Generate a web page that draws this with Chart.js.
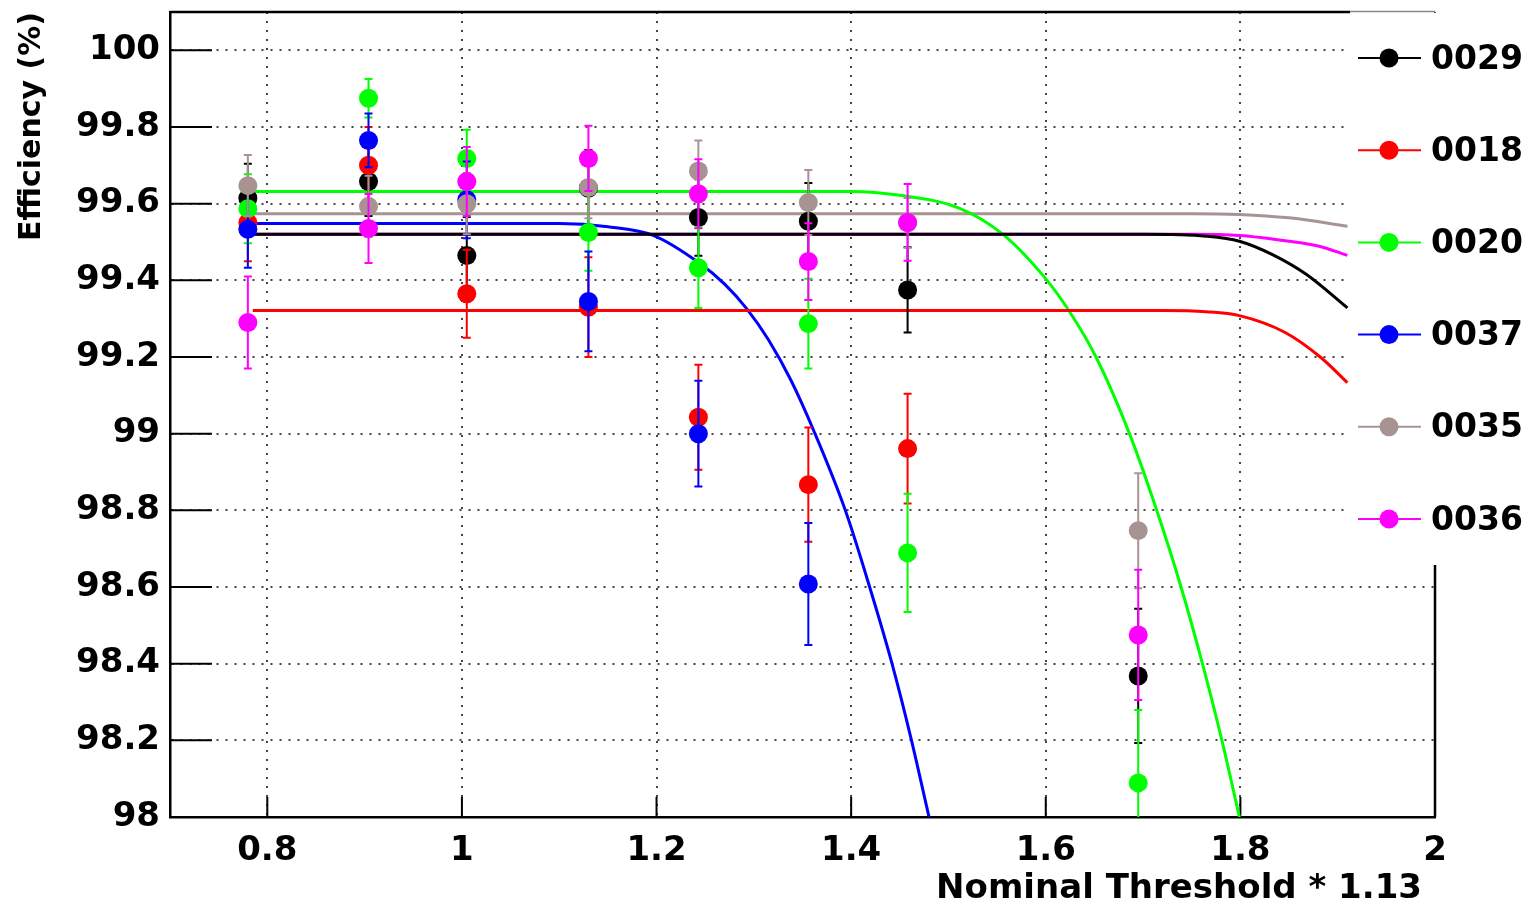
<!DOCTYPE html>
<html>
<head>
<meta charset="utf-8">
<title>Efficiency vs threshold</title>
<script src="https://cdn.jsdelivr.net/npm/chart.js@4.4.1/dist/chart.umd.min.js"></script>
<style>
  html, body { margin: 0; padding: 0; background: #fff; }
  #wrap { width: 1528px; height: 908px; }
</style>
</head>
<body>
<div id="wrap"><canvas id="chart"></canvas></div>
<script>
// x positions of the measurements (nominal threshold * 1.13)
const thresholds = [0.78, 0.904, 1.005, 1.13, 1.243, 1.356, 1.458, 1.695];

// measured efficiency (%) per chip, null = below the plotted range
const eff0029 = [99.614, 99.658, 99.465, 99.64, 99.564, 99.554, 99.375, 98.368];
const eff0018 = [99.55, 99.70, 99.365, 99.33, 99.043, 98.867, 98.961, null];
const eff0020 = [99.587, 99.875, 99.718, 99.525, 99.433, 99.287, 98.689, 98.089];
const eff0037 = [99.533, 99.765, 99.61, 99.345, 99.0, 98.608, null, null];
const eff0035 = [99.647, 99.593, 99.60, 99.642, 99.685, 99.603, 99.55, 98.747];
const eff0036 = [99.29, 99.535, 99.658, 99.718, 99.626, 99.449, 99.551, 98.475];

// error bars (half length)
const err0029 = [0.09, 0.09, 0.1, 0.1, 0.1, 0.1, 0.111, 0.175];
const err0018 = [0.1, 0.1, 0.115, 0.13, 0.137, 0.149, 0.143, 0];
const err0020 = [0.09, 0.05, 0.075, 0.1, 0.105, 0.117, 0.154, 0.19];
const err0037 = [0.1, 0.07, 0.1, 0.13, 0.138, 0.159, 0, 0];
const err0035 = [0.08, 0.08, 0.08, 0.08, 0.08, 0.085, 0.065, 0.15];
const err0036 = [0.12, 0.09, 0.09, 0.085, 0.09, 0.1, 0.1, 0.17];

// fit curves
const fit0029X = [0.785, 1.70, 1.765, 1.799, 1.833, 1.868, 1.910];
const fit0029Y = [99.52, 99.52, 99.515, 99.502, 99.467, 99.415, 99.328];
const fit0018X = [0.785, 1.72, 1.765, 1.799, 1.846, 1.883, 1.910];
const fit0018Y = [99.321, 99.321, 99.318, 99.308, 99.264, 99.198, 99.133];
const fit0020X = [0.785, 1.40, 1.45, 1.5115, 1.556, 1.599, 1.624, 1.652, 1.686, 1.714, 1.739, 1.761, 1.781, 1.799];
const fit0020Y = [99.632, 99.632, 99.622, 99.588, 99.52, 99.407, 99.32, 99.198, 99.0, 98.8, 98.6, 98.4, 98.2, 98.0];
const fit0037X = [0.785, 1.10, 1.15, 1.196, 1.244, 1.27, 1.293, 1.315, 1.338, 1.362, 1.394, 1.419, 1.442, 1.462, 1.480];
const fit0037Y = [99.548, 99.548, 99.54, 99.518, 99.445, 99.39, 99.325, 99.245, 99.14, 99.005, 98.8, 98.6, 98.4, 98.2, 98.0];
const fit0035X = [0.785, 1.75, 1.799, 1.850, 1.910];
const fit0035Y = [99.574, 99.574, 99.572, 99.563, 99.541];
const fit0036X = [0.785, 1.75, 1.799, 1.850, 1.881, 1.910];
const fit0036Y = [99.52, 99.52, 99.517, 99.502, 99.489, 99.465];

// axis ticks
const xTicks = [0.8, 1, 1.2, 1.4, 1.6, 1.8, 2];
const yTicks = [98, 98.2, 98.4, 98.6, 98.8, 99, 99.2, 99.4, 99.6, 99.8, 100];

const series = [
    { label: '0029', color: '#000000', eff: eff0029, err: err0029, fx: fit0029X, fy: fit0029Y },
    { label: '0018', color: '#ff0000', eff: eff0018, err: err0018, fx: fit0018X, fy: fit0018Y },
    { label: '0020', color: '#00ff00', eff: eff0020, err: err0020, fx: fit0020X, fy: fit0020Y },
    { label: '0037', color: '#0000ff', eff: eff0037, err: err0037, fx: fit0037X, fy: fit0037Y },
    { label: '0035', color: '#a89393', eff: eff0035, err: err0035, fx: fit0035X, fy: fit0035Y },
    { label: '0036', color: '#ff00ff', eff: eff0036, err: err0036, fx: fit0036X, fy: fit0036Y }
];

const FONT = '"DejaVu Sans", "Liberation Sans", sans-serif';

const datasets = [];
// fit curves underneath
series.forEach(s => {
    datasets.push({
        label: s.label + ' fit',
        data: s.fx.map((x, i) => ({ x: x, y: s.fy[i] })),
        showLine: true,
        borderColor: s.color,
        borderWidth: 3,
        pointRadius: 0,
        cubicInterpolationMode: 'monotone',
        order: 20
    });
});
// points with error bars, later chips on top
series.forEach((s, k) => {
    datasets.push({
        label: s.label,
        data: thresholds.map((x, i) => ({ x: x, y: s.eff[i], e: s.err[i] })).filter(p => p.y !== null),
        showLine: false,
        borderColor: s.color,
        backgroundColor: s.color,
        pointRadius: 9.5,
        pointBorderWidth: 0,
        errorBars: true,
        order: 10 - k
    });
});

// ROOT-like decorations: error bars, inner ticks, frame, legend, x title
const rootStyle = {
    id: 'rootStyle',
    beforeDatasetsDraw(chart) {
        const { ctx, chartArea: a, scales: { x, y } } = chart;
        ctx.save();
        ctx.strokeStyle = '#000';
        ctx.lineWidth = 2;
        ctx.beginPath();
        yTicks.forEach(v => {
            const py = y.getPixelForValue(v);
            ctx.moveTo(a.left, py);
            ctx.lineTo(a.left + 42, py);
        });
        xTicks.forEach(v => {
            const px = x.getPixelForValue(v);
            ctx.moveTo(px, a.bottom);
            ctx.lineTo(px, a.bottom - 20);
        });
        ctx.stroke();
        ctx.restore();
    },
    beforeDatasetDraw(chart, args) {
        const ds = chart.data.datasets[args.index];
        if (!ds.errorBars) return;
        const { ctx, chartArea: a, scales: { x, y } } = chart;
        ctx.save();
        ctx.beginPath();
        ctx.rect(a.left, a.top, a.right - a.left, a.bottom - a.top);
        ctx.clip();
        ctx.strokeStyle = ds.borderColor;
        ctx.lineWidth = 2;
        ds.data.forEach(p => {
            if (!p.e) return;
            const px = x.getPixelForValue(p.x);
            const top = y.getPixelForValue(p.y + p.e);
            const bot = y.getPixelForValue(p.y - p.e);
            ctx.beginPath();
            ctx.moveTo(px, top); ctx.lineTo(px, bot);
            ctx.moveTo(px - 4, top); ctx.lineTo(px + 4, top);
            ctx.moveTo(px - 4, bot); ctx.lineTo(px + 4, bot);
            ctx.stroke();
        });
        ctx.restore();
    },
    afterDraw(chart) {
        const { ctx, chartArea: a } = chart;
        const boxLeft = 1350, boxTop = 11, boxBottom = 565;
        ctx.save();
        // frame top and right
        ctx.strokeStyle = '#000';
        ctx.lineWidth = 2.5;
        ctx.beginPath();
        ctx.moveTo(a.left, a.top);
        ctx.lineTo(boxLeft, a.top);
        ctx.moveTo(a.right, boxBottom);
        ctx.lineTo(a.right, a.bottom);
        ctx.stroke();

        // legend box
        ctx.fillStyle = '#fff';
        ctx.fillRect(boxLeft, boxTop + 2, chart.width - boxLeft, boxBottom - boxTop - 2);
        ctx.strokeStyle = '#888';
        ctx.lineWidth = 1.5;
        ctx.beginPath();
        ctx.moveTo(boxLeft, boxTop + 0.5);
        ctx.lineTo(a.right, boxTop + 0.5);
        ctx.stroke();

        ctx.font = 'bold 33px ' + FONT;
        ctx.textBaseline = 'middle';
        ctx.textAlign = 'left';
        series.forEach((s, i) => {
            const cy = 58 + i * 92.2;
            ctx.strokeStyle = s.color;
            ctx.lineWidth = 2;
            ctx.beginPath();
            ctx.moveTo(1358, cy);
            ctx.lineTo(1421, cy);
            ctx.stroke();
            ctx.fillStyle = s.color;
            ctx.beginPath();
            ctx.arc(1389, cy, 9.5, 0, Math.PI * 2);
            ctx.fill();
            ctx.fillStyle = '#000';
            ctx.fillText(s.label, 1431, cy + 2);
        });

        // x axis title, right aligned a bit inside the frame
        ctx.font = 'bold 34px ' + FONT;
        ctx.textAlign = 'right';
        ctx.fillText('Nominal Threshold * 1.13', a.right - 13, 889);
        ctx.restore();
    }
};

const gridStyle = { color: '#444', lineWidth: 2, drawTicks: false };

new Chart(document.getElementById('chart'), {
    type: 'scatter',
    data: { datasets: datasets },
    options: {
        responsive: true,
        maintainAspectRatio: false,
        animation: false,
        layout: { padding: { top: 12, right: 93, bottom: 0, left: 0 } },
        plugins: {
            legend: { display: false },
            tooltip: { enabled: false }
        },
        scales: {
            x: {
                type: 'linear',
                min: 0.7,
                max: 2.0,
                afterFit: scale => {
                    scale.height = 91;
                    scale.paddingLeft = 0;
                    scale.paddingRight = 0;
                },
                afterBuildTicks: scale => { scale.ticks = xTicks.map(v => ({ value: v })); },
                grid: gridStyle,
                border: { display: true, color: '#000', width: 2.5, dash: [2, 7] },
                ticks: {
                    padding: 14,
                    color: '#000',
                    font: { family: FONT, size: 34, weight: 'bold' },
                    maxRotation: 0,
                    callback: v => String(Math.round(v * 10) / 10)
                },
                title: { display: false }
            },
            y: {
                type: 'linear',
                min: 98,
                max: 100.1,
                afterFit: scale => {
                    scale.width = 170;
                    scale.paddingTop = 0;
                    scale.paddingBottom = 0;
                },
                afterBuildTicks: scale => { scale.ticks = yTicks.map(v => ({ value: v })); },
                grid: gridStyle,
                border: { display: true, color: '#000', width: 2.5, dash: [2, 7] },
                ticks: {
                    padding: 10,
                    color: '#000',
                    font: { family: FONT, size: 34, weight: 'bold' },
                    callback: v => String(Math.round(v * 10) / 10)
                },
                title: {
                    display: true,
                    text: 'Efficiency (%)',
                    align: 'end',
                    color: '#000',
                    padding: { top: 14, bottom: 0 },
                    font: { family: FONT, size: 30, weight: 'bold' }
                }
            }
        }
    },
    plugins: [rootStyle]
});
</script>
</body>
</html>
